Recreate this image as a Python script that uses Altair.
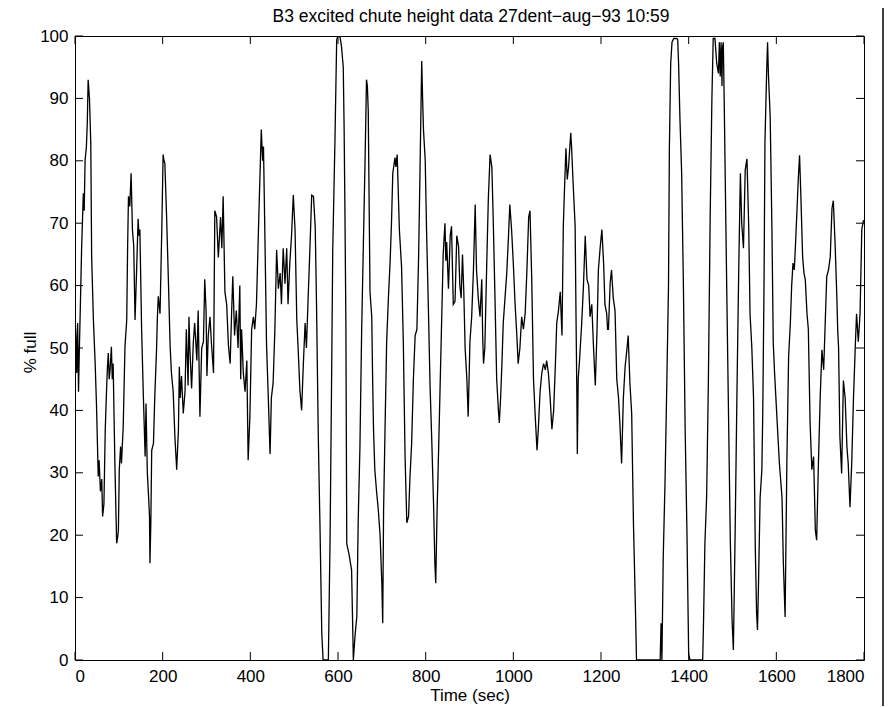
import altair as alt
import pandas as pd

# ---- data ----
time_sec = [
    0, 2, 4, 6, 8, 10, 12, 15, 19, 21, 23, 26, 28, 30, 33, 36, 38, 42, 46, 49,
    53, 55, 58, 61, 63, 66, 69, 72, 74, 76, 78, 80, 83, 85, 87, 91, 95, 97, 99, 101,
    104, 106, 110, 114, 118, 120, 122, 125, 128, 131, 134, 137, 141, 144, 146, 148, 152, 156, 160, 162,
    165, 168, 170, 171, 173, 175, 179, 182, 186, 188, 190, 194, 198, 201, 203, 205, 209, 213, 217, 220,
    224, 228, 232, 236, 238, 240, 243, 247, 251, 254, 258, 260, 262, 266, 270, 273, 278, 281, 285, 289,
    293, 296, 299, 301, 304, 308, 311, 316, 319, 323, 327, 332, 335, 338, 342, 346, 350, 354, 357, 360,
    364, 368, 372, 376, 378, 380, 384, 388, 392, 395, 399, 403, 407, 410, 414, 420, 423, 425, 428, 430,
    433, 437, 441, 445, 448, 452, 456, 460, 464, 468, 471, 475, 479, 483, 486, 490, 494, 498, 502, 506,
    509, 513, 517, 521, 525, 528, 532, 536, 540, 544, 548, 551, 555, 559, 563, 566, 570, 574, 578, 582,
    585, 588, 593, 597, 600, 603, 605, 608, 612, 614, 616, 618, 620, 625, 631, 635, 639, 643, 646, 650,
    654, 658, 662, 665, 667, 669, 673, 677, 679, 681, 684, 688, 692, 696, 700, 702, 704, 707, 711, 715,
    719, 722, 725, 730, 732, 735, 740, 745, 749, 753, 757, 761, 764, 768, 772, 776, 780, 784, 787, 791,
    793, 795, 799, 802, 806, 810, 814, 818, 821, 823, 826, 830, 833, 836, 840, 844, 846, 848, 852, 856,
    859, 863, 867, 871, 875, 878, 881, 884, 887, 890, 894, 897, 901, 905, 909, 913, 916, 920, 924, 928,
    930, 932, 935, 939, 943, 947, 949, 951, 954, 958, 962, 966, 968, 971, 974, 977, 981, 985, 989, 992,
    996, 1000, 1004, 1008, 1011, 1015, 1019, 1023, 1027, 1031, 1035, 1038, 1042, 1046, 1050, 1054, 1057, 1061, 1065, 1069,
    1073, 1076, 1080, 1084, 1088, 1092, 1096, 1099, 1103, 1107, 1111, 1114, 1117, 1120, 1123, 1126, 1131, 1133, 1136, 1141,
    1143, 1145, 1146, 1148, 1151, 1156, 1160, 1164, 1168, 1172, 1175, 1179, 1183, 1187, 1191, 1194, 1198, 1202, 1206, 1209,
    1213, 1215, 1217, 1221, 1224, 1228, 1232, 1236, 1240, 1243, 1247, 1251, 1255, 1259, 1262, 1266, 1270, 1274, 1278, 1281,
    1300, 1320, 1335, 1337, 1339, 1342, 1346, 1350, 1354, 1356, 1359, 1362, 1366, 1369, 1373, 1375, 1377, 1380, 1384, 1388,
    1392, 1396, 1400, 1403, 1420, 1432, 1434, 1437, 1441, 1445, 1449, 1453, 1456, 1460, 1464, 1468, 1470, 1472, 1474, 1476,
    1477, 1479, 1481, 1483, 1487, 1491, 1495, 1499, 1502, 1506, 1510, 1514, 1518, 1521, 1525, 1529, 1533, 1537, 1540, 1544,
    1548, 1552, 1555, 1557, 1559, 1563, 1567, 1569, 1572, 1574, 1578, 1580, 1582, 1586, 1590, 1593, 1596, 1599, 1602, 1607,
    1613, 1616, 1620, 1624, 1628, 1632, 1635, 1638, 1641, 1644, 1647, 1650, 1653, 1656, 1660, 1663, 1666, 1670, 1673, 1677,
    1681, 1685, 1689, 1692, 1696, 1700, 1704, 1708, 1711, 1715, 1719, 1723, 1727, 1730, 1734, 1738, 1740, 1742, 1745, 1749,
    1753, 1757, 1761, 1764, 1768, 1772, 1776, 1780, 1783, 1787, 1791, 1795, 1799,
]

pct_full = [
    55, 52, 46, 54, 43, 50, 56, 65.7, 74.8, 72, 80, 82.3, 86, 93, 90, 82.8, 64.6, 54.5, 47.5, 41,
    29.4, 32, 27, 29, 23, 25, 36.9, 43.3, 47, 49.2, 45, 46.5, 50.2, 45, 47.5, 31.5, 18.7, 19.5, 20.8, 30.5,
    34.2, 31.5, 37.4, 50.2, 54.5, 66, 74.3, 72.7, 78, 69, 66.3, 54.5, 63.5, 70.7, 68, 69, 52.9, 42.2, 32.6, 41.1,
    30, 26, 23, 15.5, 22, 33.6, 34.7, 42.2, 49.7, 55, 58.3, 55.5, 69, 81, 80, 79.6, 71, 61, 50.3, 46,
    43, 35.6, 30.5, 37, 47, 42, 45.5, 39.5, 43, 53, 44, 55, 50, 43.5, 51, 54, 48, 56, 39, 50,
    51, 61, 56, 45.5, 52, 55, 51, 46, 72, 71, 64.5, 71, 66, 74.3, 59, 57, 50.5, 47.5, 55, 61.5,
    52, 56, 50, 60, 45, 53, 46, 43, 48, 32, 39, 53, 55, 53, 57, 72.7, 80, 85, 80, 82.3,
    69, 50.5, 42, 33, 42, 44.4, 53, 65.7, 59.5, 62, 57, 66, 60.3, 66, 57, 63.5, 68, 74.5, 69, 54.5,
    50, 43.3, 40, 47.5, 54, 50, 58.3, 66, 74.5, 74.3, 69.5, 57, 36, 21, 4.3, 0, 0, 0, 0, 20,
    42, 65.7, 83, 99.4, 100, 100, 99.7, 98.3, 95, 85, 70.5, 54, 18.6, 17, 14.4, 0, 4, 7, 22, 34,
    53, 67, 81, 93, 92, 88, 59, 55, 45, 37, 30.5, 27, 24, 20, 12.3, 5.9, 24, 35.8, 51, 58,
    64, 70, 78, 80.5, 79, 81, 69, 63, 51, 32.6, 22, 23, 29, 34.7, 45, 52, 53, 65, 78, 96,
    90, 85, 80, 69, 57, 44, 35, 25, 15.5, 12.3, 23.7, 35, 44, 53, 65, 70, 64, 67, 59.5, 68,
    69.5, 57, 57.5, 68, 66.3, 60, 58, 65, 59, 50, 45, 39, 51, 55, 62.5, 73, 62.5, 58, 55, 61,
    52, 47.5, 50, 62.5, 74, 81, 80, 79, 71, 58.5, 45, 40, 38, 42, 47.5, 54, 58, 62, 68, 73,
    69, 63.5, 57, 52, 47.5, 50, 55, 53, 55.5, 62.5, 71, 72, 61, 45, 39, 33.6, 37, 43, 46, 47.5,
    46.5, 48, 46, 42, 37, 40, 47.5, 54, 56, 59, 52, 69.5, 76, 82, 77, 79, 84.5, 82, 77, 69.5,
    55, 42, 33, 45, 48, 54, 60, 68, 61, 60, 55, 57, 50, 44, 53, 62.5, 66, 69, 63.5, 57,
    55.5, 53, 53, 60.5, 62.5, 58, 56, 45, 42, 38, 31.5, 42, 47, 49.7, 52, 44.3, 39.5, 22, 10, 0,
    0, 0, 0, 5.9, 0, 16.5, 28.3, 43.8, 60, 82, 95.6, 99, 99.6, 99.6, 99.6, 99.4, 95.6, 87, 78, 60,
    36.9, 20.8, 1, 0, 0, 0, 6.4, 18.6, 26.2, 44.8, 70.5, 90, 99.6, 99.6, 95.6, 94, 99, 93.5, 99, 92,
    98, 99, 90, 79.5, 58.8, 39, 19.2, 6.4, 1.6, 20.3, 42, 61.5, 78, 70, 66, 78.5, 80.3, 69.5, 55.5, 50.2,
    42, 18, 7.4, 4.8, 11, 26, 30.5, 39.5, 60.8, 82.8, 94.5, 99, 93.8, 87, 68.8, 50.8, 46, 42, 38, 31.5,
    26, 15.5, 6.9, 31.5, 48.6, 54, 60, 63.6, 62.5, 67, 71.9, 77, 80.9, 74.3, 64.6, 62, 61, 55.5, 53, 38,
    30.5, 32.6, 20.8, 19.2, 31.5, 42, 49.7, 46.5, 52.9, 61.5, 62.5, 64.6, 72.4, 73.6, 66.8, 58.3, 52.9, 50, 35.8, 29.9,
    44.8, 42, 34.2, 31.5, 24.5, 31.5, 42, 50, 55.5, 51, 55.5, 69, 70.5,
]

x_ticks = [0, 200, 400, 600, 800, 1000, 1200, 1400, 1600, 1800]
y_ticks = [0, 10, 20, 30, 40, 50, 60, 70, 80, 90, 100]

title_text = "B3 excited chute height data 27dent\u2212aug\u221293 10:59"
x_title = "Time (sec)"
y_title = "% full"

# ---- layout ----
W, H = 789, 624
FONT = "Liberation Sans"
FS = 17
TICK = 8
EDGE_TOP = -28

df = pd.DataFrame({"t": time_sec, "v": pct_full})
xt = pd.DataFrame({"t": x_ticks})
yt = pd.DataFrame({"v": y_ticks})

xs = alt.Scale(domain=[0, 1800], nice=False, zero=False)
ys = alt.Scale(domain=[0, 100], nice=False, zero=False)

x_axis = alt.Axis(values=x_ticks, title=x_title, ticks=False, tickSize=0, domain=False,
                  grid=False, labelPadding=8, format="d",
                  titleX=W / 2, titleY=40.5, titleBaseline="alphabetic", titleAlign="center")
y_axis = alt.Axis(values=y_ticks, title=y_title, ticks=False, tickSize=0, domain=False,
                  grid=False, labelPadding=7, format="d",
                  titleX=-40, titleY=H / 2 + 4, titleAngle=270,
                  titleBaseline="alphabetic", titleAlign="center")

line = alt.Chart(df).mark_line(color="black", strokeWidth=1.3, clip=True).encode(
    x=alt.X("t:Q", scale=xs, axis=x_axis),
    y=alt.Y("v:Q", scale=ys, axis=y_axis),
)

bottom_ticks = alt.Chart(xt).mark_rule(color="black", strokeWidth=1).encode(
    x=alt.X("t:Q", scale=xs, axis=x_axis), y=alt.value(H), y2=alt.value(H - TICK))
top_ticks = alt.Chart(xt).mark_rule(color="black", strokeWidth=1).encode(
    x=alt.X("t:Q", scale=xs, axis=x_axis), y=alt.value(0), y2=alt.value(TICK))
left_ticks = alt.Chart(yt).mark_rule(color="black", strokeWidth=1).encode(
    y=alt.Y("v:Q", scale=ys, axis=y_axis), x=alt.value(0), x2=alt.value(TICK))
right_ticks = alt.Chart(yt).mark_rule(color="black", strokeWidth=1).encode(
    y=alt.Y("v:Q", scale=ys, axis=y_axis), x=alt.value(W), x2=alt.value(W - TICK))

# vertical border line at the right edge of the original screenshot
edge = alt.Chart(pd.DataFrame({"k": [0]})).mark_rule(color="black", strokeWidth=1.5).encode(
    x=alt.value(W + 19), y=alt.value(EDGE_TOP), y2=alt.value(H + 46))

# chart title as a text mark (exact placement above the plot box)
title = alt.Chart(pd.DataFrame({"label": [title_text]})).mark_text(
    font=FONT, fontSize=17.5, color="black", align="center", baseline="alphabetic",
).encode(text="label:N", x=alt.value(W / 2 + 1.5), y=alt.value(-14.5))

chart = alt.layer(line, bottom_ticks, top_ticks, left_ticks, right_ticks, edge, title).properties(
    width=W, height=H,
    background="white",
    autosize=alt.AutoSizeParams(type="none"),
    padding={"left": 67, "top": 28, "right": 22, "bottom": 46},
).configure_view(stroke="black", strokeWidth=1).configure_axis(
    labelFont=FONT, labelFontSize=FS, labelColor="black",
    titleFont=FONT, titleFontSize=FS, titleFontWeight="normal", titleColor="black",
)

chart.save("out.html", embed_options={"renderer": "svg", "actions": False})
